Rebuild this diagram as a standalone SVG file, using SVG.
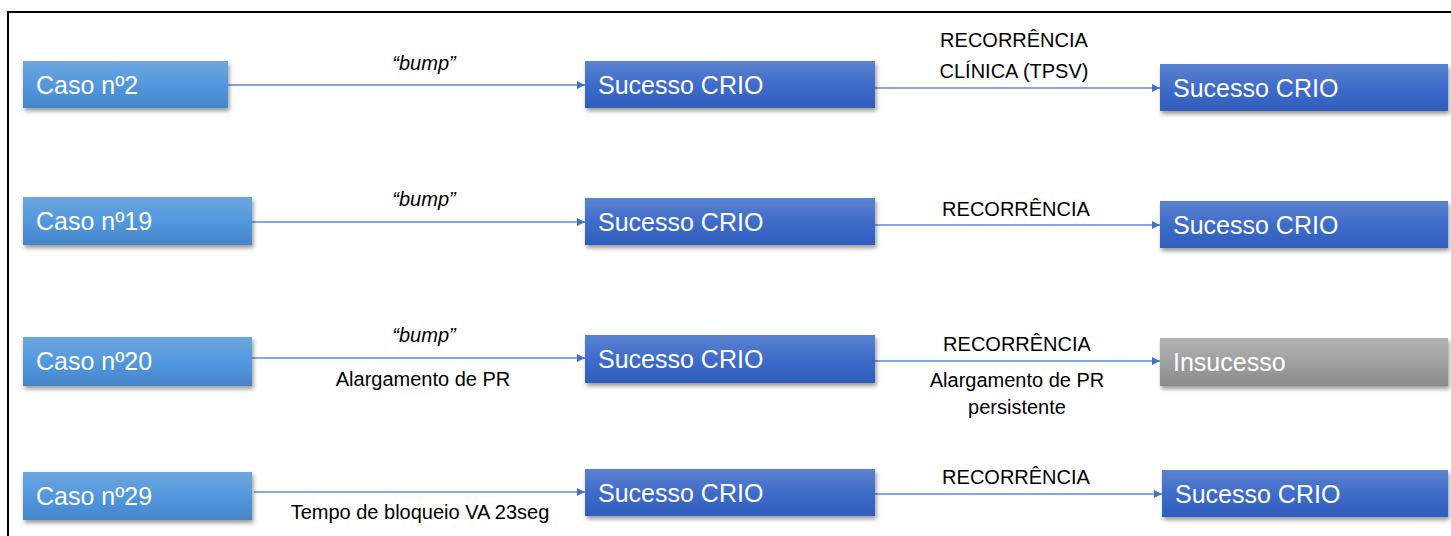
<svg xmlns="http://www.w3.org/2000/svg" width="1451" height="536" viewBox="0 0 1451 536">
<style>
.frame{fill:none;stroke:#000;stroke-width:2}
.box-text{font-family:"Liberation Sans",Arial,sans-serif;font-size:25px;fill:#fff}
.lbl{font-family:"Liberation Sans",Arial,sans-serif;font-size:20px;fill:#000;text-anchor:middle}
.it{font-style:italic}
.conn{stroke:#5b8ad6;stroke-width:1.3;fill:none;marker-end:url(#arr)}
</style>
<defs>
<linearGradient id="gCase" x1="0" y1="0" x2="0" y2="1">
<stop offset="0" stop-color="#6ea6de"/><stop offset="0.5" stop-color="#5298de"/><stop offset="1" stop-color="#4685c9"/>
</linearGradient>
<linearGradient id="gOk" x1="0" y1="0" x2="0" y2="1">
<stop offset="0" stop-color="#5b82d0"/><stop offset="0.5" stop-color="#3f6cc9"/><stop offset="1" stop-color="#2f5dbb"/>
</linearGradient>
<linearGradient id="gFail" x1="0" y1="0" x2="0" y2="1">
<stop offset="0" stop-color="#b2b2b2"/><stop offset="0.5" stop-color="#a0a0a0"/><stop offset="1" stop-color="#8a8a8a"/>
</linearGradient>
<filter id="sh" x="-5%" y="-20%" width="115%" height="150%">
<feDropShadow dx="1.5" dy="3" stdDeviation="2" flood-color="#000" flood-opacity="0.4"/>
</filter>
<marker id="arr" viewBox="0 0 10 10" refX="10" refY="5" markerWidth="8" markerHeight="8" markerUnits="userSpaceOnUse" orient="auto">
<path d="M0,0 L10,5 L0,10 Z" fill="#4472c4"/>
</marker>
</defs>
<path class="frame" d="M8,536 V12 H1451"/>

<g id="connectors">
<line class="conn" x1="228" y1="85" x2="585" y2="85"/>
<line class="conn" x1="875" y1="88" x2="1160" y2="88"/>
<line class="conn" x1="252" y1="222" x2="585" y2="222"/>
<line class="conn" x1="875" y1="225" x2="1160" y2="225"/>
<line class="conn" x1="252" y1="358" x2="585" y2="358"/>
<line class="conn" x1="875" y1="361" x2="1160" y2="361"/>
<line class="conn" x1="254" y1="492" x2="585" y2="492"/>
<line class="conn" x1="875" y1="494" x2="1162" y2="494"/>
<text class="lbl it" x="424" y="70">“bump”</text>
<text class="lbl" x="1014" y="47">RECORRÊNCIA</text>
<text class="lbl" x="1014" y="78">CLÍNICA (TPSV)</text>
<text class="lbl it" x="424" y="206">“bump”</text>
<text class="lbl" x="1016" y="216">RECORRÊNCIA</text>
<text class="lbl it" x="424" y="342">“bump”</text>
<text class="lbl" x="423" y="386">Alargamento de PR</text>
<text class="lbl" x="1017" y="351">RECORRÊNCIA</text>
<text class="lbl" x="1017" y="387">Alargamento de PR</text>
<text class="lbl" x="1017" y="414">persistente</text>
<text class="lbl" x="420" y="519">Tempo de bloqueio VA 23seg</text>
<text class="lbl" x="1016" y="484">RECORRÊNCIA</text>
</g>

<g id="caso2"><rect x="23" y="61" width="205" height="47" fill="url(#gCase)" filter="url(#sh)"/><text class="box-text" x="36" y="94">Caso nº2</text></g>
<g id="sucesso2a"><rect x="585" y="61" width="290" height="47" fill="url(#gOk)" filter="url(#sh)"/><text class="box-text" x="598" y="94">Sucesso CRIO</text></g>
<g id="sucesso2b"><rect x="1160" y="64" width="288" height="47" fill="url(#gOk)" filter="url(#sh)"/><text class="box-text" x="1173" y="97">Sucesso CRIO</text></g>

<g id="caso19"><rect x="23" y="197" width="229" height="48" fill="url(#gCase)" filter="url(#sh)"/><text class="box-text" x="36" y="230">Caso nº19</text></g>
<g id="sucesso19a"><rect x="585" y="198" width="290" height="47" fill="url(#gOk)" filter="url(#sh)"/><text class="box-text" x="598" y="231">Sucesso CRIO</text></g>
<g id="sucesso19b"><rect x="1160" y="201" width="288" height="47" fill="url(#gOk)" filter="url(#sh)"/><text class="box-text" x="1173" y="234">Sucesso CRIO</text></g>

<g id="caso20"><rect x="23" y="337" width="229" height="49" fill="url(#gCase)" filter="url(#sh)"/><text class="box-text" x="36" y="370">Caso nº20</text></g>
<g id="sucesso20"><rect x="585" y="335" width="290" height="48" fill="url(#gOk)" filter="url(#sh)"/><text class="box-text" x="598" y="368">Sucesso CRIO</text></g>
<g id="insucesso20"><rect x="1160" y="338" width="288" height="48" fill="url(#gFail)" filter="url(#sh)"/><text class="box-text" x="1173" y="371">Insucesso</text></g>

<g id="caso29"><rect x="23" y="472" width="229" height="48" fill="url(#gCase)" filter="url(#sh)"/><text class="box-text" x="36" y="505">Caso nº29</text></g>
<g id="sucesso29a"><rect x="585" y="469" width="290" height="47" fill="url(#gOk)" filter="url(#sh)"/><text class="box-text" x="598" y="502">Sucesso CRIO</text></g>
<g id="sucesso29b"><rect x="1162" y="470" width="286" height="47" fill="url(#gOk)" filter="url(#sh)"/><text class="box-text" x="1175" y="503">Sucesso CRIO</text></g>
</svg>
